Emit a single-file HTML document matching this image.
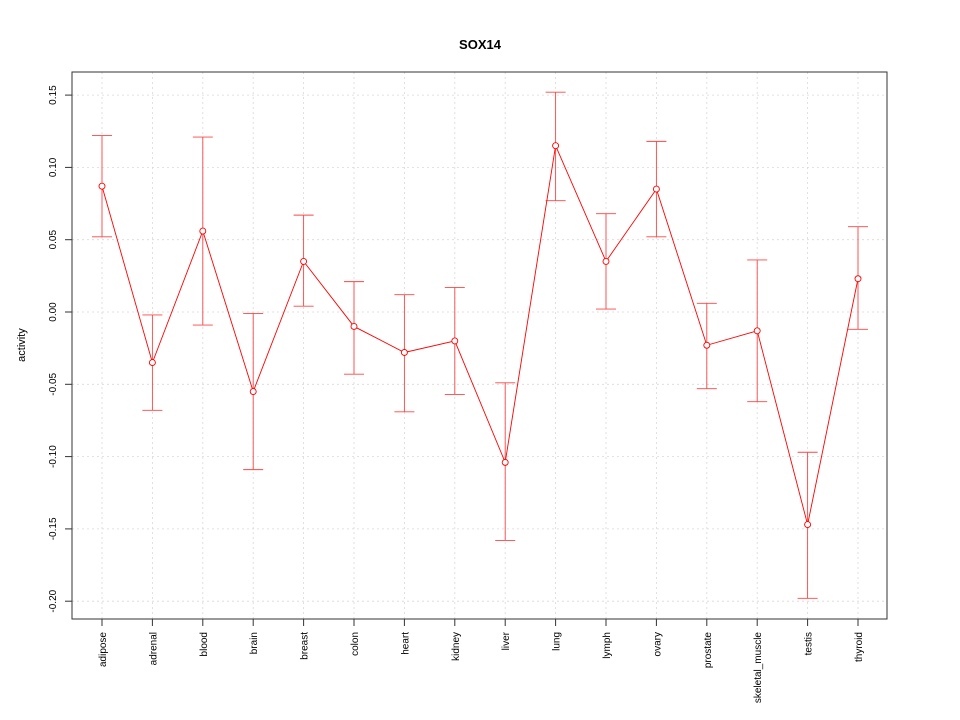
<!DOCTYPE html>
<html><head><meta charset="utf-8"><style>body{margin:0;background:#fff}svg{display:block;font-family:"Liberation Sans",sans-serif}</style></head>
<body>
<svg id="c" width="960" height="720">
<text x="480" y="49" text-anchor="middle" font-size="13" font-weight="bold">SOX14</text>
<text transform="translate(25,345) rotate(-90)" text-anchor="middle" font-size="11">activity</text>
</svg>
<script>
const categories=["adipose","adrenal","blood","brain","breast","colon","heart","kidney","liver","lung","lymph","ovary","prostate","skeletal_muscle","testis","thyroid"];
const values=[0.087,-0.035,0.056,-0.055,0.035,-0.010,-0.028,-0.020,-0.104,0.115,0.035,0.085,-0.023,-0.013,-0.147,0.023];
const upper=[0.122,-0.002,0.121,-0.001,0.067,0.021,0.012,0.017,-0.049,0.152,0.068,0.118,0.006,0.036,-0.097,0.059];
const lower=[0.052,-0.068,-0.009,-0.109,0.004,-0.043,-0.069,-0.057,-0.158,0.077,0.002,0.052,-0.053,-0.062,-0.198,-0.012];
const yTicks=[-0.20,-0.15,-0.10,-0.05,0.00,0.05,0.10,0.15];
const yLabels=["-0.20","-0.15","-0.10","-0.05","0.00","0.05","0.10","0.15"];
const svg=document.getElementById('c');const NS="http://www.w3.org/2000/svg";
function X(i){return 102+i*50.4;}
function Y(v){return 312-v*1446;}
function mk(t,a,p){const e=document.createElementNS(NS,t);for(const k in a)e.setAttribute(k,a[k]);(p||svg).appendChild(e);return e;}
yTicks.forEach((t,i)=>{
 const g=mk('line',{x1:72,x2:887,y1:Y(t),y2:Y(t),stroke:'#d8d8d8','stroke-dasharray':'2,3','stroke-width':0.8});
 
 
 const tk=mk('line',{x1:65,x2:72,y1:Y(t),y2:Y(t),stroke:'#333'});
 
 
 const tx=mk('text',{transform:`translate(56,${Y(t)}) rotate(-90)`,'text-anchor':'middle','font-size':10});
 tx.textContent=yLabels[i];
 
 
});
categories.forEach((c,i)=>{
 const g=mk('line',{x1:X(i),x2:X(i),y1:72,y2:619,stroke:'#d8d8d8','stroke-dasharray':'2,3','stroke-width':0.8});
 
 
 const tk=mk('line',{x1:X(i),x2:X(i),y1:619,y2:626,stroke:'#333'});
 
 
 const tx=mk('text',{transform:`translate(${X(i)+4},632) rotate(-90)`,'text-anchor':'end','font-size':10});
 tx.textContent=c;
 
 
});
const box=mk('rect',{x:72,y:72,width:815,height:547,fill:'none',stroke:'#333'});


categories.forEach((c,i)=>{
 const e=mk('path',{d:`M${X(i)},${Y(upper[i])}V${Y(lower[i])}M${X(i)-10},${Y(upper[i])}H${X(i)+10}M${X(i)-10},${Y(lower[i])}H${X(i)+10}`,stroke:'#f44','stroke-width':0.9,fill:'none'});
 
 
});
const ln=mk('polyline',{points:values.map((v,i)=>X(i)+','+Y(v)).join(' '),fill:'none',stroke:'#f00','stroke-width':0.9});


values.forEach((v,i)=>{
 const p=mk('circle',{cx:X(i),cy:Y(v),r:3,fill:'#fff',stroke:'#f00','stroke-width':0.9});
 
 
});
</script>
</body></html>
